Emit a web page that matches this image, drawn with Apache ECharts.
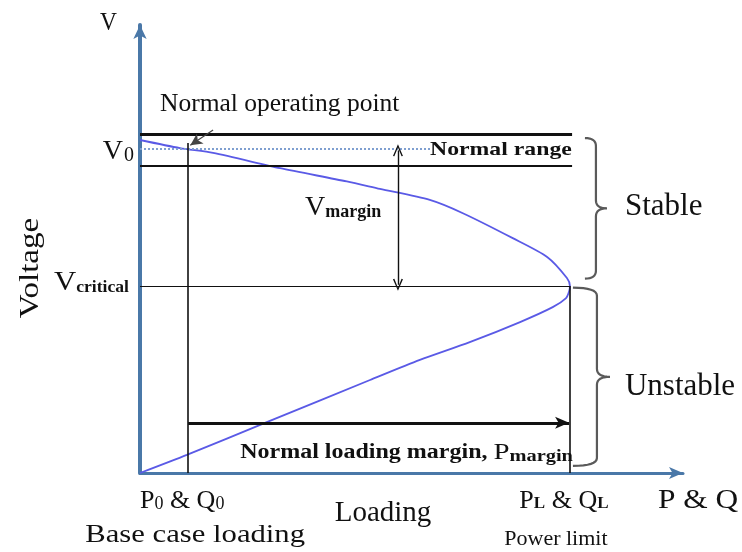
<!DOCTYPE html>
<html>
<head>
<meta charset="utf-8">
<script src="https://cdn.jsdelivr.net/npm/echarts@6/dist/echarts.min.js"></script>
<style>
  html, body { margin: 0; padding: 0; background: #fff; }
  #chart { width: 742px; height: 552px; }
</style>
</head>
<body>
<div id="chart"></div>
<script>
// PV (nose) curve. Loading is per-unit of the power limit, voltage per-unit of V0.
// Upper (stable) branch from no load to the nose, then the lower (unstable) branch back to the origin.
const loading = [0, 0.093, 0.170, 0.326, 0.481, 0.558, 0.674, 0.751, 0.867, 0.947, 0.993, 1.0,
                 0.998, 0.991, 0.960, 0.884, 0.767, 0.651, 0.535, 0.295, 0.109, 0];
const voltage = [1.028, 1.003, 0.988, 0.941, 0.900, 0.877, 0.843, 0.802, 0.725, 0.667, 0.602, 0.577,
                 0.560, 0.540, 0.512, 0.466, 0.404, 0.349, 0.287, 0.157, 0.056, 0];

// Reference levels
const V0 = 1.0;          // normal operating voltage
const Vhigh = 1.046;     // upper edge of the normal range
const Vlow = 0.948;      // lower edge of the normal range
const Vcrit = 0.577;     // voltage at the nose
const P0 = 0.112;        // base case loading
const PL = 1.0;          // power limit
const Pmark = 0.6;       // where the voltage margin is measured
const loadArrowV = 0.155;
const axisMax = { x: 1.263, y: 1.383 };

const SERIF = '"Liberation Serif", "DejaVu Serif", serif';
const INK = '#111';
const AXIS = '#4a78a8';

const chart = echarts.init(document.getElementById('chart'), null, { renderer: 'canvas' });

const chevron = 'path://M0,12 L5,0 L10,12 L8.6,12.4 L5,3.2 L1.4,12.4 Z';

function seg(a, b, style, endSym, startSym, size) {
  return [
    { coord: a, symbol: startSym || 'none', symbolSize: size || 10 },
    { coord: b, symbol: endSym || 'none', symbolSize: size || 10, lineStyle: style }
  ];
}

const option = {
  animation: false,
  backgroundColor: '#fff',
  grid: { left: 140, right: 59, top: 25, bottom: 79 },
  xAxis: {
    type: 'value', min: 0, max: axisMax.x,
    axisLine: { show: true, symbol: ['none', 'arrow'], symbolSize: [9, 14], lineStyle: { color: AXIS, width: 3 } },
    axisTick: { show: false }, axisLabel: { show: false }, splitLine: { show: false }
  },
  yAxis: {
    type: 'value', min: 0, max: axisMax.y,
    axisLine: { show: true, symbol: ['none', 'arrow'], symbolSize: [10, 14], lineStyle: { color: AXIS, width: 4 } },
    axisTick: { show: false }, axisLabel: { show: false }, splitLine: { show: false }
  },
  series: [
    {
      name: 'guides',
      type: 'line',
      data: [],
      silent: true,
      markLine: {
        silent: true,
        animation: false,
        label: { show: false },
        emphasis: { disabled: true },
        lineStyle: { type: 'solid', color: INK, width: 1 },
        data: [
          seg([0, Vhigh], [PL + 0.005, Vhigh], { color: INK, width: 3, type: 'solid' }),
          seg([0, Vlow], [PL + 0.005, Vlow], { color: INK, width: 2, type: 'solid' }),
          seg([0, V0], [0.675, V0], { color: '#7f9fd0', width: 2, type: [2, 2] }),
          seg([0, Vcrit], [PL, Vcrit], { color: INK, width: 1.2, type: 'solid' }),
          seg([P0, 0], [P0, 1.019], { color: INK, width: 1.6, type: 'solid' }),
          seg([PL, 0], [PL, Vcrit], { color: INK, width: 1.6, type: 'solid' }),
          seg([P0, loadArrowV], [PL - 0.002, loadArrowV], { color: INK, width: 3, type: 'solid' }, 'arrow', 'none', [9, 14]),
          seg([Pmark, Vcrit + 0.004], [Pmark, V0 - 0.004], { color: INK, width: 1.4, type: 'solid' }, chevron, chevron, [10, 12]),
          seg([0.170, 1.059], [0.117, 1.012], { color: '#444', width: 1.2, type: 'solid' }, 'arrow', 'none', [9, 12])
        ]
      }
    },
    {
      name: 'PV curve',
      type: 'line',
      data: loading.map((p, i) => [p, voltage[i]]),
      smooth: 0.25,
      showSymbol: false,
      silent: true,
      lineStyle: { color: '#5a5ae6', width: 1.8 }
    }
  ]
};

chart.setOption(option);

const px = (p, v) => chart.convertToPixel({ gridIndex: 0 }, [p, v]);

// Right-facing curly brace sampled into a polyline
function bracePoints(x0, xs, xt, y1, y2) {
  const ym = (y1 + y2) / 2, r = 8, pts = [];
  const quad = (a, c, b) => {
    for (let i = 0; i <= 8; i++) {
      const t = i / 8, u = 1 - t;
      pts.push([u * u * a[0] + 2 * u * t * c[0] + t * t * b[0], u * u * a[1] + 2 * u * t * c[1] + t * t * b[1]]);
    }
  };
  quad([x0, y1], [xs, y1], [xs, y1 + r]);
  quad([xs, ym - r], [xs, ym], [xt, ym]);
  quad([xt, ym], [xs, ym], [xs, ym + r]);
  quad([xs, y2 - r], [xs, y2], [x0, y2]);
  return pts;
}

const origin = px(0, 0);
const pV0 = px(0, V0);
const pVc = px(0, Vcrit);
const pP0 = px(P0, 0);
const pPL = px(PL, 0);
const pMark = px(Pmark, (V0 + Vcrit) / 2);
const pLoad = px(P0, loadArrowV);
const yEnd = px(0, axisMax.y);
const xEnd = px(axisMax.x, 0);

const sTop = px(PL, 1.034)[1], sBot = px(PL, 0.600)[1];
const uTop = px(PL, 0.572)[1], uBot = px(PL, 0.022)[1];
const bx = pPL[0];

const f = (size, bold) => (bold ? 'bold ' : '') + size + 'px ' + SERIF;

// Text anchored at (x, y); sx stretches it horizontally around that anchor
const txt = (text, x, y, font, align, sx, extra) => ({
  type: 'text', silent: true, x: x, y: y, scaleX: sx || 1,
  style: Object.assign({
    text: text, x: 0, y: 0, fill: INK, font: font,
    textAlign: align || 'left', textVerticalAlign: 'middle'
  }, extra || {})
});

chart.setOption({
  graphic: [
    { type: 'polyline', silent: true, shape: { points: bracePoints(bx + 15, bx + 26, bx + 37, sTop, sBot) },
      style: { stroke: '#5a5a5a', lineWidth: 2.2, fill: null } },
    { type: 'polyline', silent: true, shape: { points: bracePoints(bx + 3, bx + 27, bx + 40, uTop, uBot) },
      style: { stroke: '#5a5a5a', lineWidth: 2.2, fill: null } },

    txt('V', yEnd[0] - 40, yEnd[1] - 2, f(26), 'left', 0.9),
    txt('{v|V}{s|0}', pV0[0] - 6, pV0[1] + 3, f(28), 'right', 1, {
      rich: { v: { font: f(28), fill: INK }, s: { font: f(20), fill: INK, padding: [8, 0, 0, 1] } }
    }),
    txt('{v|V}{s|critical}', pVc[0] - 11, pVc[1] - 3, f(28), 'right', 1.1, {
      rich: { v: { font: f(28), fill: INK }, s: { font: f(16, true), fill: INK, padding: [10, 0, 0, 0] } }
    }),
    txt('Normal operating point', 160, pV0[1] - 45, f(25.5)),
    txt('Normal range', 430, pV0[1] + 1, f(19, true), 'left', 1.25, { backgroundColor: '#fff' }),
    txt('{v|V}{s|margin}', pMark[0] - 93, pMark[1] - 10, f(28), 'left', 1, {
      rich: { v: { font: f(28), fill: INK }, s: { font: f(18, true), fill: INK, padding: [10, 0, 0, 0] } }
    }),
    txt('Stable', bx + 55, (sTop + sBot) / 2 - 1, f(31)),
    txt('Unstable', bx + 55, (uTop + uBot) / 2 + 10, f(31)),
    txt('{t|Normal loading margin, }{v|P}{s|margin}', pLoad[0] + 52, pLoad[1] + 30, f(20, true), 'left', 1.2, {
      rich: {
        t: { font: f(20, true), fill: INK },
        v: { font: f(24), fill: INK },
        s: { font: f(17, true), fill: INK, padding: [8, 0, 0, 0] }
      }
    }),
    { type: 'text', silent: true, rotation: Math.PI / 2, x: 31, y: 268, scaleX: 1.18,
      style: { text: 'Voltage', x: 0, y: 0, fill: INK, font: f(28), textAlign: 'center', textVerticalAlign: 'middle' } },
    txt('{v|P}{s|0}{v| & Q}{s|0}', pP0[0] - 6, origin[1] + 28, f(26), 'center', 1, {
      rich: { v: { font: f(26), fill: INK }, s: { font: f(18), fill: INK, padding: [6, 0, 0, 0] } }
    }),
    txt('Base case loading', pP0[0] + 7, origin[1] + 62, f(26), 'center', 1.18),
    txt('Loading', 383, origin[1] + 40, f(29), 'center'),
    txt('{v|P}{s|L}{v| & Q}{s|L}', pPL[0] - 6, origin[1] + 28, f(26), 'center', 1, {
      rich: { v: { font: f(26), fill: INK }, s: { font: f(17, true), fill: INK, padding: [6, 0, 0, 0] } }
    }),
    txt('P & Q', xEnd[0] - 25, origin[1] + 28, f(28), 'left', 1.12),
    txt('Power limit', pPL[0] - 14, origin[1] + 66, f(22), 'center')
  ]
});
</script>
</body>
</html>
